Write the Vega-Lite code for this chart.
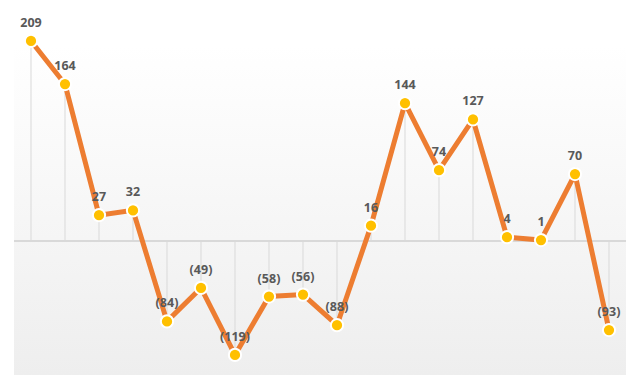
{
  "$schema": "https://vega.github.io/schema/vega-lite/v6.json",
  "autosize": "none",
  "width": 612,
  "height": 330,
  "padding": {"left": 14, "top": 45, "right": 14, "bottom": 0},
  "background": "#ffffff",
  "config": {"view": {"stroke": null}},
  "datasets": {
    "pts": [
      {"i": 1, "v": 209}, {"i": 2, "v": 164}, {"i": 3, "v": 27}, {"i": 4, "v": 32},
      {"i": 5, "v": -84}, {"i": 6, "v": -49}, {"i": 7, "v": -119}, {"i": 8, "v": -58},
      {"i": 9, "v": -56}, {"i": 10, "v": -88}, {"i": 11, "v": 16}, {"i": 12, "v": 144},
      {"i": 13, "v": 74}, {"i": 14, "v": 127}, {"i": 15, "v": 4}, {"i": 16, "v": 1},
      {"i": 17, "v": 70}, {"i": 18, "v": -93}
    ],
    "bg": [{"top": 204.8, "bottom": -140, "zero": 0}]
  },
  "layer": [
    {
      "data": {"name": "bg"},
      "mark": {"type": "rect", "color": {"gradient": "linear", "x1": 0, "y1": 0, "x2": 0, "y2": 1, "stops": [{"offset": 0, "color": "#ffffff"}, {"offset": 1, "color": "#eeeeee"}]}},
      "encoding": {
        "y": {"field": "top", "type": "quantitative", "scale": {"domain": [-140, 204.8], "nice": false, "zero": false}, "axis": null},
        "y2": {"field": "bottom"}
      }
    },
    {
      "data": {"name": "pts"},
      "mark": {"type": "rule", "color": "#d9d9d9", "strokeWidth": 1},
      "encoding": {
        "x": {"field": "i", "type": "ordinal", "scale": {"type": "point", "padding": 0.5}, "axis": null},
        "y": {"field": "v", "type": "quantitative"},
        "y2": {"datum": 0}
      }
    },
    {
      "data": {"name": "bg"},
      "mark": {"type": "rule", "color": "#d9d9d9", "strokeWidth": 2},
      "encoding": {"y": {"field": "zero", "type": "quantitative"}}
    },
    {
      "data": {"name": "pts"},
      "mark": {"type": "line", "color": "#ED7D31", "strokeWidth": 5},
      "encoding": {
        "x": {"field": "i", "type": "ordinal"},
        "y": {"field": "v", "type": "quantitative"}
      }
    },
    {
      "data": {"name": "pts"},
      "mark": {"type": "point", "filled": true, "fill": "#FFC000", "stroke": "#ffffff", "strokeWidth": 2, "size": 150, "opacity": 1},
      "encoding": {
        "x": {"field": "i", "type": "ordinal"},
        "y": {"field": "v", "type": "quantitative"}
      }
    },
    {
      "data": {"name": "pts"},
      "mark": {"type": "text", "font": "Open Sans", "fontSize": 12.5, "fontWeight": "bold", "color": "#595959", "baseline": "middle", "dy": -18},
      "encoding": {
        "x": {"field": "i", "type": "ordinal"},
        "y": {"field": "v", "type": "quantitative"},
        "text": {"field": "v", "type": "quantitative", "format": "(d"}
      }
    }
  ]
}
